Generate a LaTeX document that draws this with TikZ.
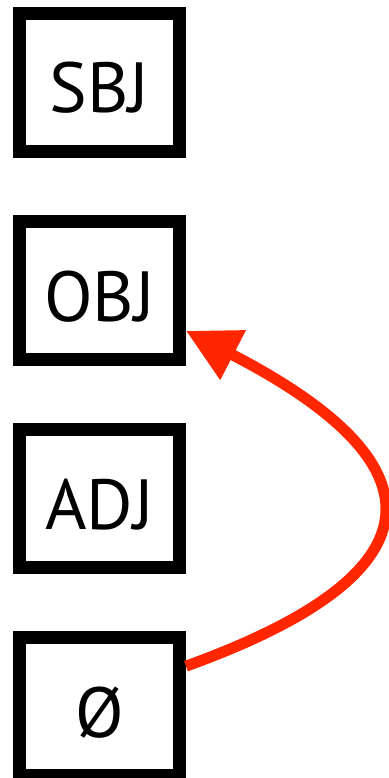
\documentclass[tikz,border=0pt]{standalone}
\usepackage{fontspec}
\setmainfont{PT Sans}
\usetikzlibrary{arrows.meta}
\definecolor{arrowred}{RGB}{255,38,0}
\begin{document}
\begin{tikzpicture}[x=1pt,y=-1pt,
  box/.style={draw=black, line width=13pt, minimum width=160pt, minimum height=138pt,
    inner sep=0pt, text height=61pt, text depth=0pt, font=\fontsize{71}{80}\selectfont},
  link/.style={draw=arrowred, line width=11pt, -{Triangle[length=53pt,width=53pt]}}]
\useasboundingbox (0,0) rectangle (388,778);
\node[box] (sbj) at (99.5,82.5) {SBJ};
\node[box] (obj) at (99.5,290.5) {OBJ};
\node[box] (adj) at (99.5,498.5) {ADJ};
\node[box] (zero) at (99.5,706.5) {Ø};
\draw[link] (zero.25) .. controls +(266,-96) and +(252,130) .. (obj.-25);
\end{tikzpicture}
\end{document}
